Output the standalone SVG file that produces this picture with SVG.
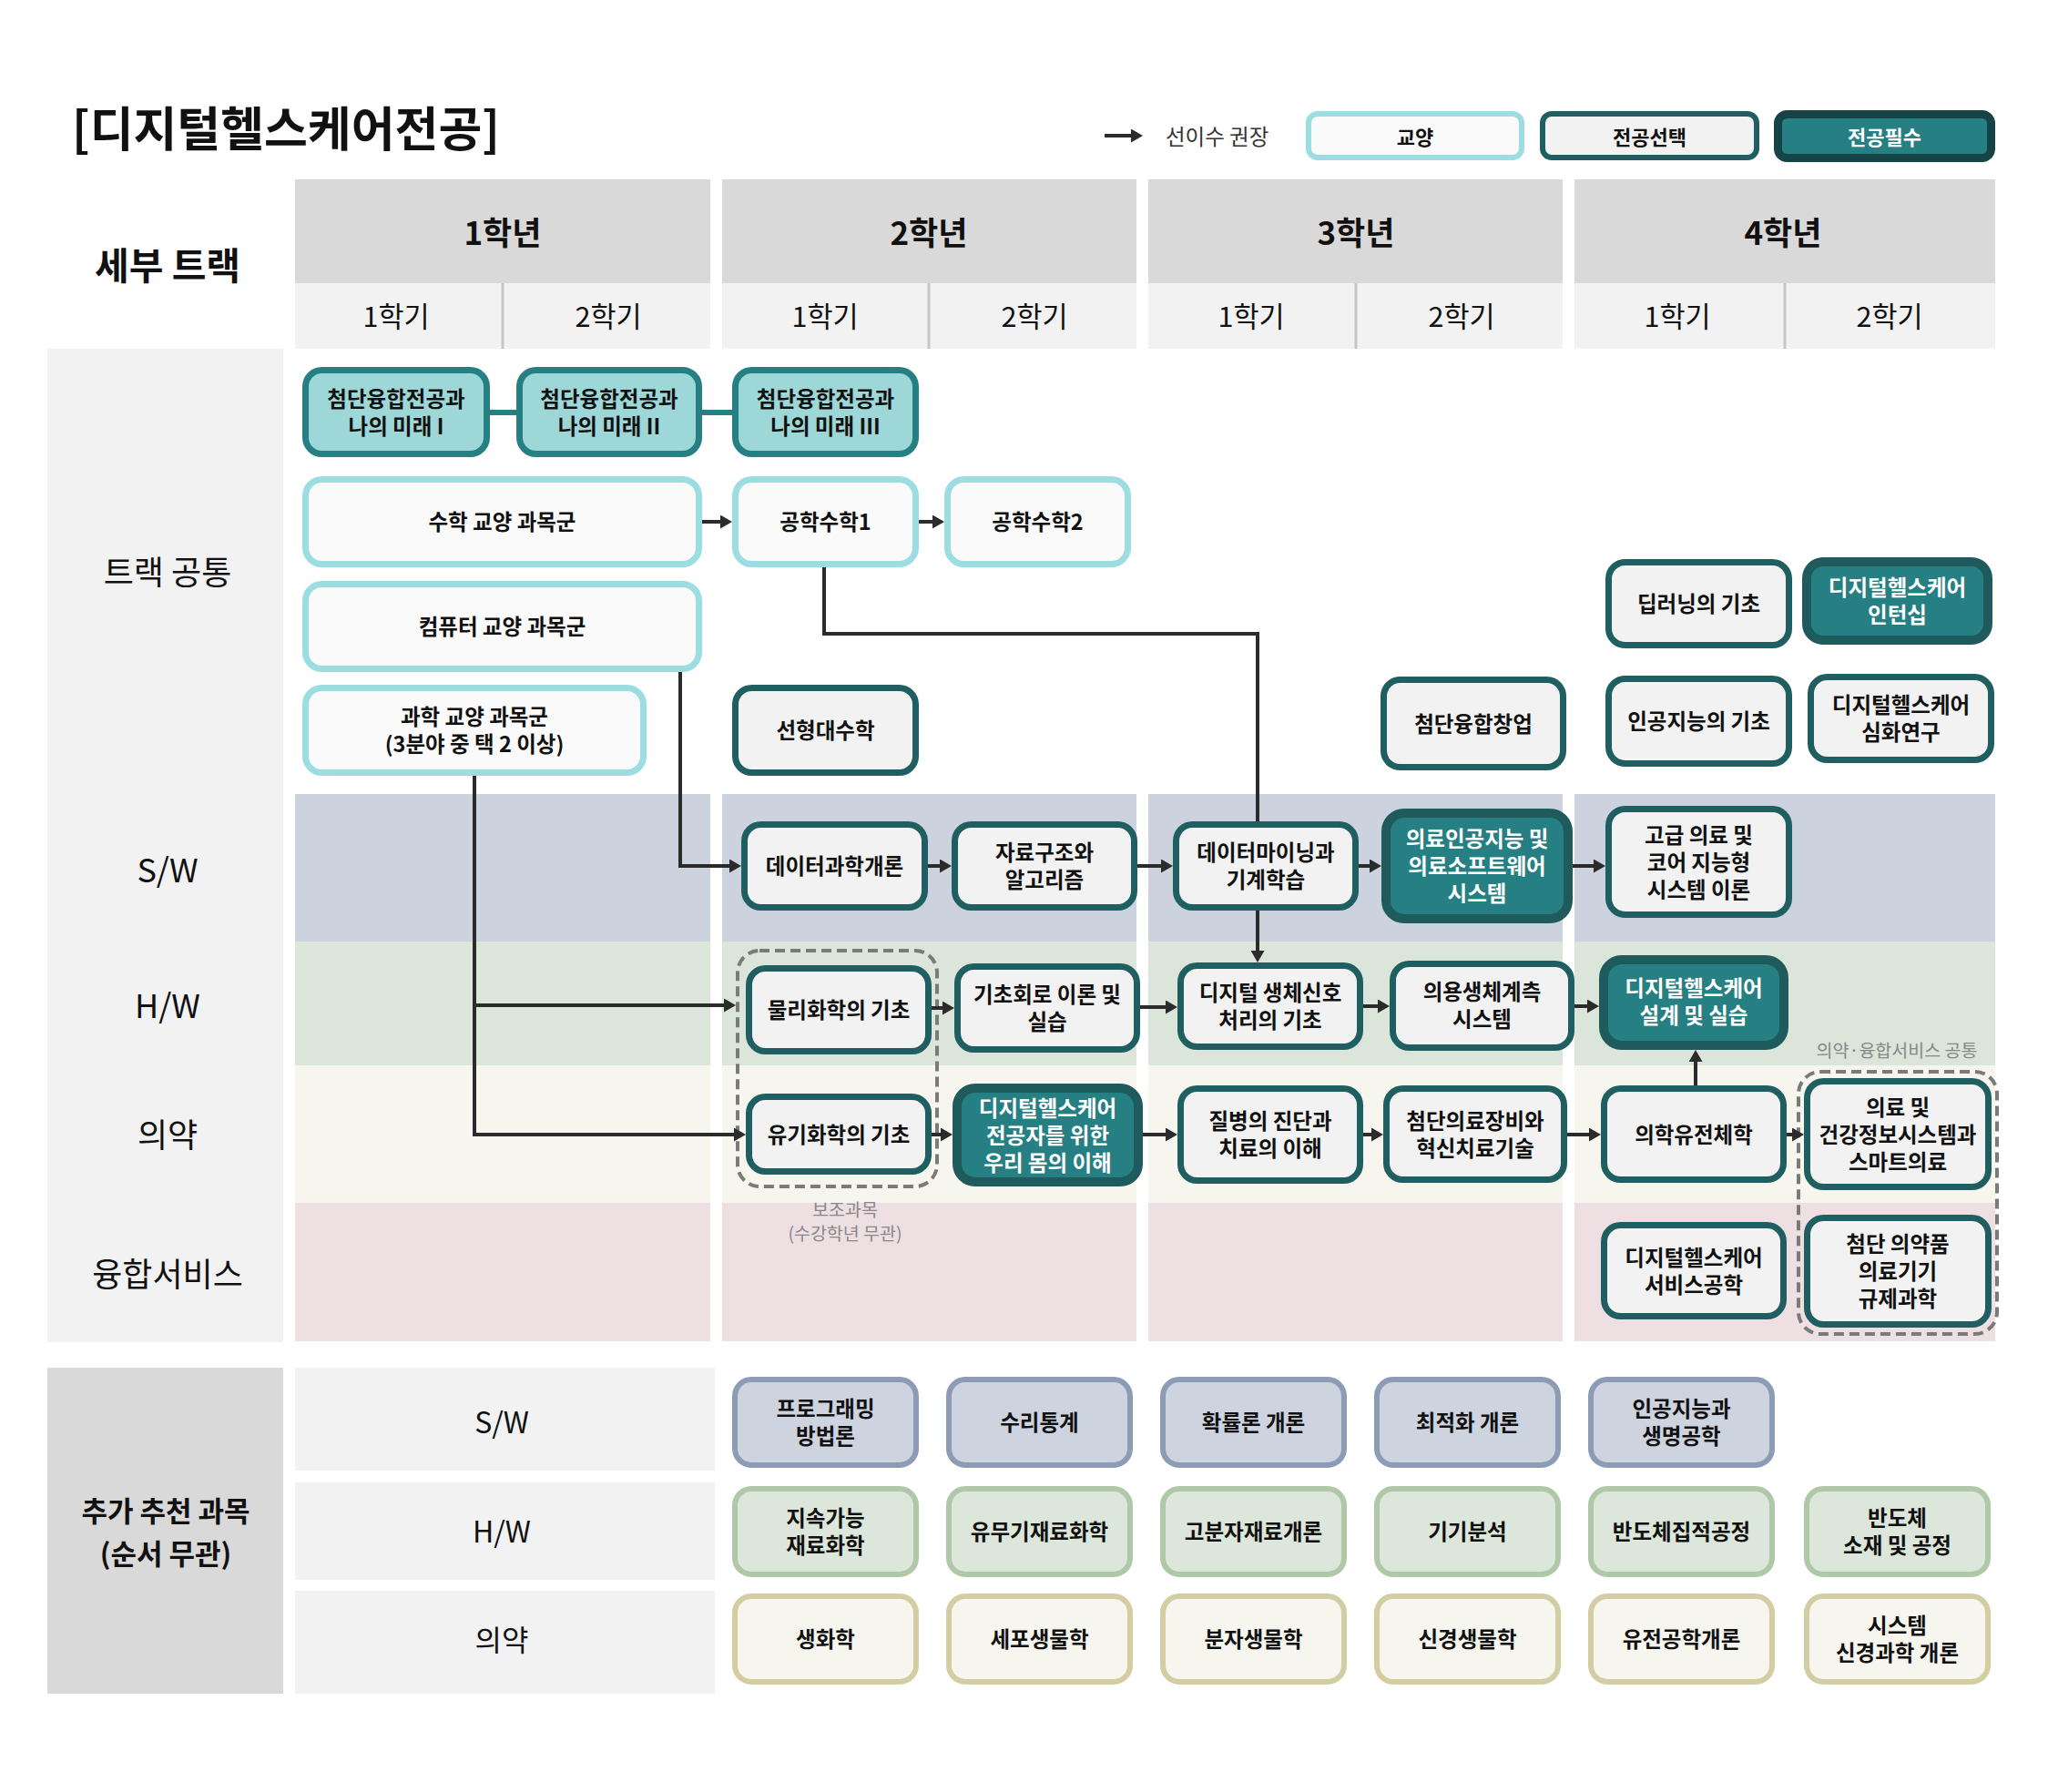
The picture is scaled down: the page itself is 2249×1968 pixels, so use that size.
<svg xmlns="http://www.w3.org/2000/svg" width="2249" height="1968" viewBox="0 0 2249 1968">
<style>
text{font-family:"Noto Sans CJK KR","Noto Sans",sans-serif;text-anchor:middle;dominant-baseline:central;fill:#111}
.b{font-weight:700}
.n{font-weight:700;font-size:23.5px}
.w{fill:#fff}
.yr{font-weight:700;font-size:35px}
.sm{font-weight:400;font-size:30.5px}
.lab{font-weight:400;font-size:36px}
.note{font-weight:400;font-size:19.5px;fill:#888}
.gy{fill:#FAFAFA;stroke:#9BDDE1;stroke-width:7}
.mr{fill:#9DD7D8;stroke:#267F82;stroke-width:7}
.el{fill:#F2F2F2;stroke:#1F5F61;stroke-width:7}
.rq{fill:#267F82;stroke:#1F5A5C;stroke-width:10}
.bs{fill:#CDD3DF;stroke:#8C9CB5;stroke-width:6}
.bh{fill:#DDE6DA;stroke:#AFC8A7;stroke-width:6}
.bm{fill:#F6F6EF;stroke:#D3CDA3;stroke-width:6}
.c{fill:none;stroke:#2B2B2B;stroke-width:4;marker-end:url(#ah)}
.dash{fill:none;stroke:#7A7A7A;stroke-width:4;stroke-dasharray:11 6}
</style>
<defs>
<marker id="ah" viewBox="0 0 13 15" refX="9" refY="7.5" markerWidth="13" markerHeight="15" markerUnits="userSpaceOnUse" orient="auto"><path d="M0,0 L13,7.5 L0,15 Z" fill="#2B2B2B"/></marker>
</defs>
<rect width="2249" height="1968" fill="#fff"/>

<!-- title & legend -->
<text x="79" y="138" class="b" style="font-size:52px;text-anchor:start">[디지털헬스케어전공]</text>
<g id="legend">
<line x1="1213" y1="149" x2="1251" y2="149" stroke="#2B2B2B" stroke-width="4" marker-end="url(#ah)"/>
<text x="1280" y="149" style="font-size:23.5px;text-anchor:start;fill:#333">선이수 권장</text>
<rect x="1437" y="125" width="234" height="48" rx="10" fill="#FAFAFA" stroke="#9BDDE1" stroke-width="6"/>
<text x="1554" y="149" class="b" style="font-size:22px">교양</text>
<rect x="1694" y="125" width="235" height="48" rx="10" fill="#F2F2F2" stroke="#1F5F61" stroke-width="6"/>
<text x="1811.5" y="149" class="b" style="font-size:22px">전공선택</text>
<rect x="1952.5" y="125.5" width="234" height="48" rx="10" fill="#267F82" stroke="#164345" stroke-width="9"/>
<text x="2069.5" y="149" class="b w" style="font-size:22px">전공필수</text>
</g>

<!-- header -->
<g id="header">
<text x="184" y="289" class="b" style="font-size:41px">세부 트랙</text>
<rect x="324" y="197" width="456" height="114" fill="#D9D9D9"/>
<rect x="793" y="197" width="455" height="114" fill="#D9D9D9"/>
<rect x="1261" y="197" width="455" height="114" fill="#D9D9D9"/>
<rect x="1729" y="197" width="462" height="114" fill="#D9D9D9"/>
<rect x="324" y="311" width="456" height="72" fill="#F2F2F2"/>
<rect x="793" y="311" width="455" height="72" fill="#F2F2F2"/>
<rect x="1261" y="311" width="455" height="72" fill="#F2F2F2"/>
<rect x="1729" y="311" width="462" height="72" fill="#F2F2F2"/>
<g stroke="#C6C6C6" stroke-width="3">
<line x1="552" y1="311" x2="552" y2="383"/>
<line x1="1020" y1="311" x2="1020" y2="383"/>
<line x1="1489" y1="311" x2="1489" y2="383"/>
<line x1="1960" y1="311" x2="1960" y2="383"/>
</g>
<text x="552" y="253" class="yr">1학년</text>
<text x="1020" y="253" class="yr">2학년</text>
<text x="1489" y="253" class="yr">3학년</text>
<text x="1958" y="253" class="yr">4학년</text>
<text x="435" y="346" class="sm">1학기</text>
<text x="668" y="346" class="sm">2학기</text>
<text x="906" y="346" class="sm">1학기</text>
<text x="1136" y="346" class="sm">2학기</text>
<text x="1374" y="346" class="sm">1학기</text>
<text x="1605" y="346" class="sm">2학기</text>
<text x="1842" y="346" class="sm">1학기</text>
<text x="2075" y="346" class="sm">2학기</text>
</g>

<!-- track bands -->
<g id="tracks">
<rect x="52" y="383" width="259" height="1091" fill="#F2F2F2"/>
<g fill="#CCD3DF"><rect x="324" y="872" width="456" height="162"/><rect x="793" y="872" width="455" height="162"/><rect x="1261" y="872" width="455" height="162"/><rect x="1729" y="872" width="462" height="162"/></g>
<g fill="#DCE5DA"><rect x="324" y="1034" width="456" height="136"/><rect x="793" y="1034" width="455" height="136"/><rect x="1261" y="1034" width="455" height="136"/><rect x="1729" y="1034" width="462" height="136"/></g>
<g fill="#F6F6EF"><rect x="324" y="1170" width="456" height="151"/><rect x="793" y="1170" width="455" height="151"/><rect x="1261" y="1170" width="455" height="151"/><rect x="1729" y="1170" width="462" height="151"/></g>
<g fill="#EEDFE3"><rect x="324" y="1321" width="456" height="152"/><rect x="793" y="1321" width="455" height="152"/><rect x="1261" y="1321" width="455" height="152"/><rect x="1729" y="1321" width="462" height="152"/></g>
<text x="184" y="626" class="lab">트랙 공통</text>
<text x="184" y="953" class="lab">S/W</text>
<text x="184" y="1102" class="lab">H/W</text>
<text x="184" y="1244" class="lab">의약</text>
<text x="184" y="1397" class="lab">융합서비스</text>
</g>

<!-- groups -->
<g id="groups">
<rect x="810" y="1044" width="219" height="259" rx="24" class="dash"/>
<text x="928" y="1327" class="note">보조과목</text>
<text x="928" y="1353" class="note">(수강학년 무관)</text>
<rect x="1975" y="1177" width="218" height="288" rx="24" class="dash"/>
<text x="2083" y="1152" class="note">의약·융합서비스 공통</text>
</g>

<!-- connectors -->
<g id="connectors">
<path d="M538,453 H567 M771,453 H804" stroke="#267F82" stroke-width="6" fill="none"/>
<path class="c" d="M771,573 H800"/>
<path class="c" d="M1009,573 H1033"/>
<path class="c" d="M905,623 V696 H1381 V1053"/>
<path class="c" d="M747,738 V951 H810"/>
<path class="c" d="M521,852 V1246 H815"/>
<path class="c" d="M521,1104 H804"/>
<path class="c" d="M1019,951 H1041"/>
<path class="c" d="M1249,951 H1284"/>
<path class="c" d="M1492,951 H1513"/>
<path class="c" d="M1727,951 H1759"/>
<path class="c" d="M1023,1107 H1044"/>
<path class="c" d="M1252,1106 H1289"/>
<path class="c" d="M1497,1105 H1522"/>
<path class="c" d="M1729,1105 H1752"/>
<path class="c" d="M1023,1246 H1042"/>
<path class="c" d="M1255,1246 H1289"/>
<path class="c" d="M1497,1246 H1515"/>
<path class="c" d="M1721,1246 H1754"/>
<path class="c" d="M1962,1246 H1977"/>
<path class="c" d="M1862,1192 V1157"/>
</g>

<!-- nodes -->
<g id="n1"><rect x="335.5" y="406.5" width="199" height="92" rx="18" class="mr"/><text class="n"><tspan x="435" y="437">첨단융합전공과</tspan><tspan x="435" y="467">나의 미래 I</tspan></text></g>
<g id="n2"><rect x="570.5" y="406.5" width="197" height="92" rx="18" class="mr"/><text class="n"><tspan x="669" y="437">첨단융합전공과</tspan><tspan x="669" y="467">나의 미래 II</tspan></text></g>
<g id="n3"><rect x="807.5" y="406.5" width="198" height="92" rx="18" class="mr"/><text class="n"><tspan x="906.5" y="437">첨단융합전공과</tspan><tspan x="906.5" y="467">나의 미래 III</tspan></text></g>
<g id="n4"><rect x="335.5" y="526.5" width="432" height="93" rx="18" class="gy"/><text class="n" x="551.5" y="572">수학 교양 과목군</text></g>
<g id="n5"><rect x="807.5" y="526.5" width="198" height="93" rx="18" class="gy"/><text class="n" x="906.5" y="572">공학수학1</text></g>
<g id="n6"><rect x="1040.5" y="526.5" width="198" height="93" rx="18" class="gy"/><text class="n" x="1139.5" y="572">공학수학2</text></g>
<g id="n7"><rect x="335.5" y="641.5" width="432" height="93" rx="18" class="gy"/><text class="n" x="551.5" y="687">컴퓨터 교양 과목군</text></g>
<g id="n8"><rect x="335.5" y="755.5" width="371" height="93" rx="18" class="gy"/><text class="n"><tspan x="521" y="786">과학 교양 과목군</tspan><tspan x="521" y="816">(3분야 중 택 2 이상)</tspan></text></g>
<g id="n9"><rect x="807.5" y="755.5" width="198" height="93" rx="18" class="el"/><text class="n" x="906.5" y="801">선형대수학</text></g>
<g id="n10"><rect x="1519.5" y="746.5" width="197" height="96" rx="18" class="el"/><text class="n" x="1618" y="793.5">첨단융합창업</text></g>
<g id="n11"><rect x="1766.5" y="617.5" width="198" height="91" rx="18" class="el"/><text class="n" x="1865.5" y="662">딥러닝의 기초</text></g>
<g id="n12"><rect x="1984" y="617" width="199" height="86" rx="18" class="rq"/><text class="n w"><tspan x="2083.5" y="644">디지털헬스케어</tspan><tspan x="2083.5" y="674">인턴십</tspan></text></g>
<g id="n13"><rect x="1766.5" y="745.5" width="198" height="93" rx="18" class="el"/><text class="n" x="1865.5" y="791">인공지능의 기초</text></g>
<g id="n14"><rect x="1988.5" y="743.5" width="198" height="91" rx="18" class="el"/><text class="n"><tspan x="2087.5" y="773">디지털헬스케어</tspan><tspan x="2087.5" y="803">심화연구</tspan></text></g>
<g id="n15"><rect x="817.5" y="905.5" width="198" height="91" rx="18" class="el"/><text class="n" x="916.5" y="950">데이터과학개론</text></g>
<g id="n16"><rect x="1048.5" y="905.5" width="197" height="91" rx="18" class="el"/><text class="n"><tspan x="1147" y="935">자료구조와</tspan><tspan x="1147" y="965">알고리즘</tspan></text></g>
<g id="n17"><rect x="1291.5" y="905.5" width="197" height="91" rx="18" class="el"/><text class="n"><tspan x="1390" y="935">데이터마이닝과</tspan><tspan x="1390" y="965">기계학습</tspan></text></g>
<g id="n18"><rect x="1522" y="893" width="200" height="116" rx="20" class="rq"/><text class="n w"><tspan x="1622" y="920">의료인공지능 및</tspan><tspan x="1622" y="950">의료소프트웨어</tspan><tspan x="1622" y="980">시스템</tspan></text></g>
<g id="n19"><rect x="1766.5" y="888.5" width="198" height="116" rx="18" class="el"/><text class="n"><tspan x="1865.5" y="915.5">고급 의료 및</tspan><tspan x="1865.5" y="945.5">코어 지능형</tspan><tspan x="1865.5" y="975.5">시스템 이론</tspan></text></g>
<g id="n20"><rect x="822.5" y="1063.5" width="197" height="91" rx="18" class="el"/><text class="n" x="921" y="1108">물리화학의 기초</text></g>
<g id="n21"><rect x="1051.5" y="1061.5" width="197" height="91" rx="18" class="el"/><text class="n"><tspan x="1150" y="1091">기초회로 이론 및</tspan><tspan x="1150" y="1121">실습</tspan></text></g>
<g id="n22"><rect x="1296.5" y="1060.5" width="197" height="89" rx="18" class="el"/><text class="n"><tspan x="1395" y="1089">디지털 생체신호</tspan><tspan x="1395" y="1119">처리의 기초</tspan></text></g>
<g id="n23"><rect x="1529.5" y="1058.5" width="196" height="92" rx="18" class="el"/><text class="n"><tspan x="1627.5" y="1088">의용생체계측</tspan><tspan x="1627.5" y="1118">시스템</tspan></text></g>
<g id="n24"><rect x="1761" y="1054" width="198" height="94" rx="20" class="rq"/><text class="n w"><tspan x="1860" y="1084">디지털헬스케어</tspan><tspan x="1860" y="1114">설계 및 실습</tspan></text></g>
<g id="n25"><rect x="822.5" y="1204.5" width="197" height="82" rx="18" class="el"/><text class="n" x="921" y="1244.5">유기화학의 기초</text></g>
<g id="n26"><rect x="1051" y="1195" width="199" height="103" rx="20" class="rq"/><text class="n w"><tspan x="1150.5" y="1215.5">디지털헬스케어</tspan><tspan x="1150.5" y="1245.5">전공자를 위한</tspan><tspan x="1150.5" y="1275.5">우리 몸의 이해</tspan></text></g>
<g id="n27"><rect x="1296.5" y="1195.5" width="197" height="101" rx="18" class="el"/><text class="n"><tspan x="1395" y="1230">질병의 진단과</tspan><tspan x="1395" y="1260">치료의 이해</tspan></text></g>
<g id="n28"><rect x="1522.5" y="1195.5" width="195" height="100" rx="18" class="el"/><text class="n"><tspan x="1620" y="1230">첨단의료장비와</tspan><tspan x="1620" y="1260">혁신치료기술</tspan></text></g>
<g id="n29"><rect x="1761.5" y="1195.5" width="197" height="100" rx="18" class="el"/><text class="n" x="1860" y="1244.5">의학유전체학</text></g>
<g id="n30"><rect x="1984.5" y="1187.5" width="199" height="116" rx="18" class="el"/><text class="n"><tspan x="2084" y="1214.5">의료 및</tspan><tspan x="2084" y="1244.5">건강정보시스템과</tspan><tspan x="2084" y="1274.5">스마트의료</tspan></text></g>
<g id="n31"><rect x="1761.5" y="1345.5" width="197" height="100" rx="18" class="el"/><text class="n"><tspan x="1860" y="1380">디지털헬스케어</tspan><tspan x="1860" y="1410">서비스공학</tspan></text></g>
<g id="n32"><rect x="1984.5" y="1337.5" width="199" height="117" rx="18" class="el"/><text class="n"><tspan x="2084" y="1365">첨단 의약품</tspan><tspan x="2084" y="1395">의료기기</tspan><tspan x="2084" y="1425">규제과학</tspan></text></g>

<!-- additional recommended -->
<g id="extra">
<rect x="52" y="1502" width="259" height="358" fill="#D9D9D9"/>
<text x="182" y="1657" class="b" style="font-size:31px">추가 추천 과목</text>
<text x="182" y="1704" class="b" style="font-size:31px">(순서 무관)</text>
<rect x="324" y="1502" width="461" height="113" fill="#F2F2F2"/>
<rect x="324" y="1628" width="461" height="107" fill="#F2F2F2"/>
<rect x="324" y="1747" width="461" height="113" fill="#F2F2F2"/>
<text x="551" y="1560" class="sm" style="font-size:32px">S/W</text>
<text x="551" y="1680" class="sm" style="font-size:32px">H/W</text>
<text x="551" y="1799" class="sm" style="font-size:32px">의약</text>
</g>
<g id="b1"><rect x="807" y="1515" width="199" height="94" rx="18" class="bs"/><text class="n"><tspan x="906.5" y="1546">프로그래밍</tspan><tspan x="906.5" y="1576">방법론</tspan></text></g>
<g id="b2"><rect x="1042" y="1515" width="199" height="94" rx="18" class="bs"/><text class="n" x="1141.5" y="1561">수리통계</text></g>
<g id="b3"><rect x="1277" y="1515" width="199" height="94" rx="18" class="bs"/><text class="n" x="1376.5" y="1561">확률론 개론</text></g>
<g id="b4"><rect x="1512" y="1515" width="199" height="94" rx="18" class="bs"/><text class="n" x="1611.5" y="1561">최적화 개론</text></g>
<g id="b5"><rect x="1747" y="1515" width="199" height="94" rx="18" class="bs"/><text class="n"><tspan x="1846.5" y="1546">인공지능과</tspan><tspan x="1846.5" y="1576">생명공학</tspan></text></g>
<g id="b6"><rect x="807" y="1635" width="199" height="94" rx="18" class="bh"/><text class="n"><tspan x="906.5" y="1666">지속가능</tspan><tspan x="906.5" y="1696">재료화학</tspan></text></g>
<g id="b7"><rect x="1042" y="1635" width="199" height="94" rx="18" class="bh"/><text class="n" x="1141.5" y="1681">유무기재료화학</text></g>
<g id="b8"><rect x="1277" y="1635" width="199" height="94" rx="18" class="bh"/><text class="n" x="1376.5" y="1681">고분자재료개론</text></g>
<g id="b9"><rect x="1512" y="1635" width="199" height="94" rx="18" class="bh"/><text class="n" x="1611.5" y="1681">기기분석</text></g>
<g id="b10"><rect x="1747" y="1635" width="199" height="94" rx="18" class="bh"/><text class="n" x="1846.5" y="1681">반도체집적공정</text></g>
<g id="b11"><rect x="1984" y="1635" width="199" height="94" rx="18" class="bh"/><text class="n"><tspan x="2083.5" y="1666">반도체</tspan><tspan x="2083.5" y="1696">소재 및 공정</tspan></text></g>
<g id="b12"><rect x="807" y="1753" width="199" height="94" rx="18" class="bm"/><text class="n" x="906.5" y="1799">생화학</text></g>
<g id="b13"><rect x="1042" y="1753" width="199" height="94" rx="18" class="bm"/><text class="n" x="1141.5" y="1799">세포생물학</text></g>
<g id="b14"><rect x="1277" y="1753" width="199" height="94" rx="18" class="bm"/><text class="n" x="1376.5" y="1799">분자생물학</text></g>
<g id="b15"><rect x="1512" y="1753" width="199" height="94" rx="18" class="bm"/><text class="n" x="1611.5" y="1799">신경생물학</text></g>
<g id="b16"><rect x="1747" y="1753" width="199" height="94" rx="18" class="bm"/><text class="n" x="1846.5" y="1799">유전공학개론</text></g>
<g id="b17"><rect x="1984" y="1753" width="199" height="94" rx="18" class="bm"/><text class="n"><tspan x="2083.5" y="1784">시스템</tspan><tspan x="2083.5" y="1814">신경과학 개론</tspan></text></g>
</svg>
